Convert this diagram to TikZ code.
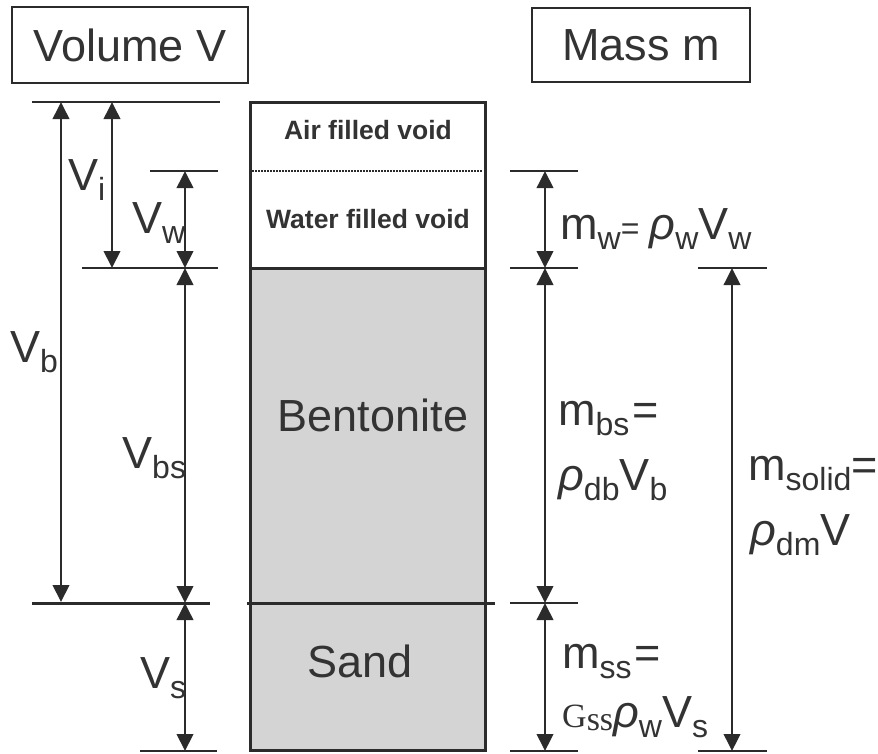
\documentclass[tikz,border=0pt]{standalone}
\usepackage{fontspec}
\setmainfont{Liberation Sans}
\newfontfamily\serifG{Liberation Serif}
\usetikzlibrary{arrows.meta}
\definecolor{ink}{HTML}{2B2B2B}
\definecolor{txt}{HTML}{333333}
\definecolor{fillgray}{HTML}{D4D4D4}
\newcommand{\Lsize}{\fontsize{45}{54}\selectfont}
\newcommand{\Ssize}{\fontsize{32}{36}\selectfont}
\newcommand{\lowsub}[1]{\raisebox{-10pt}{\Ssize #1}}
\newcommand{\rhoit}{{\itshape ρ}}
\tikzset{
  dimarrow/.style={draw=ink, line width=2pt,
    {Triangle[length=17pt,width=16.5pt]}-{Triangle[length=17pt,width=16.5pt]}},
  extline/.style={draw=ink, line width=2pt},
  heavyline/.style={draw=ink, line width=3pt},
  lbl/.style={inner sep=0pt, anchor=base west, font=\Lsize, text=txt},
  hdr/.style={draw=ink, line width=2.5pt, inner sep=0pt, font=\Lsize, text=txt},
  boxtext/.style={inner sep=0pt, anchor=base, text=txt}
}
\begin{document}
\begin{tikzpicture}[x=1pt,y=-1pt]
\useasboundingbox (0,0) rectangle (878,753);

% headers
\node[hdr, minimum width=236pt, minimum height=76pt] (volhdr) at (130,45) {Volume V};
\node[hdr, minimum width=218pt, minimum height=74pt] (masshdr) at (641,45) {Mass m};

% column
\fill[fillgray] (250,268) rectangle (485,750);
\draw[ink, line width=1.5pt, dash pattern=on 1.5pt off 1.5pt] (252,171) -- (483,171);
\draw[heavyline] (250,268) -- (485,268);
\draw[heavyline] (250,102) rectangle (485,750);

\node[boxtext, font=\fontsize{26.5}{30}\selectfont\bfseries] (air) at (368,139) {Air filled void};
\node[boxtext, font=\fontsize{26.5}{30}\selectfont\bfseries] (water) at (368,228) {Water filled void};
\node[boxtext, font=\Lsize] (bento) at (373,431) {Bentonite};
\node[boxtext, font=\Lsize] (sand) at (360,677) {Sand};

% coordinates
\coordinate (vbT) at (61,102);  \coordinate (vbB) at (61,602);
\coordinate (viT) at (112,102); \coordinate (viB) at (112,268);
\coordinate (vwT) at (185,171); \coordinate (vwB) at (185,268);
\coordinate (vsT) at (185,603); \coordinate (vsB) at (185,751);
\coordinate (mwT) at (545,171); \coordinate (mwB) at (545,268);
\coordinate (mbsB) at (545,603); \coordinate (mssB) at (545,751);
\coordinate (msT) at (732,268); \coordinate (msB) at (732,751);

% extension lines left
\draw[extline] (32,102) -- (220,102);
\draw[extline] (150,171) -- (218,171);
\draw[extline] (82,268) -- (218,268);
\draw[heavyline] (32,603) -- (210,603);
\draw[heavyline] (247,603) -- (495,603);
\draw[extline] (140,751) -- (217,751);
% extension lines right
\draw[extline] (510,171) -- (578,171);
\draw[extline] (510,268) -- (578,268);
\draw[extline] (698,268) -- (767,268);
\draw[extline] (510,603) -- (578,603);
\draw[extline] (510,751) -- (578,751);
\draw[extline] (698,751) -- (767,751);

% dimension arrows
\draw[dimarrow] (vbT) -- (vbB);
\draw[dimarrow] (viT) -- (viB);
\draw[dimarrow] (vwT) -- (vwB);
\draw[dimarrow] (vwB) -- (vsT);
\draw[dimarrow] (vsT) -- (vsB);
\draw[dimarrow] (mwT) -- (mwB);
\draw[dimarrow] (mwB) -- (mbsB);
\draw[dimarrow] (mbsB) -- (mssB);
\draw[dimarrow] (msT) -- (msB);

% left labels
\node[lbl] (lvi) at (68,190) {V\lowsub{i}};
\node[lbl] (lvw) at (132,233) {V\lowsub{w}};
\node[lbl] (lvb) at (10,362) {V\lowsub{b}};
\node[lbl] (lvbs) at (122,468) {V\lowsub{bs}};
\node[lbl] (lvs) at (140,688) {V\lowsub{s}};

% right labels
\node[lbl] (lmw) at (560,239) {m\lowsub{w}{\Ssize=}\hspace{10pt}\rhoit\lowsub{w}V\lowsub{w}};
\node[lbl] (lmbs1) at (558,425) {m\lowsub{bs}\hspace{3pt}=};
\node[lbl] (lmbs2) at (558,490) {\rhoit\lowsub{db}V\lowsub{b}};
\node[lbl] (lms1) at (748,480) {m\lowsub{solid}=};
\node[lbl] (lms2) at (750,545) {\rhoit\lowsub{dm}V};
\node[lbl] (lmss1) at (562,668) {m\lowsub{ss}\hspace{3pt}=};
\node[lbl] (lmss2) at (562,727) {{\serifG\fontsize{34}{36}\selectfont G\raisebox{-3pt}{ss}}\rhoit\lowsub{w}V\lowsub{s}};
\end{tikzpicture}
\end{document}
